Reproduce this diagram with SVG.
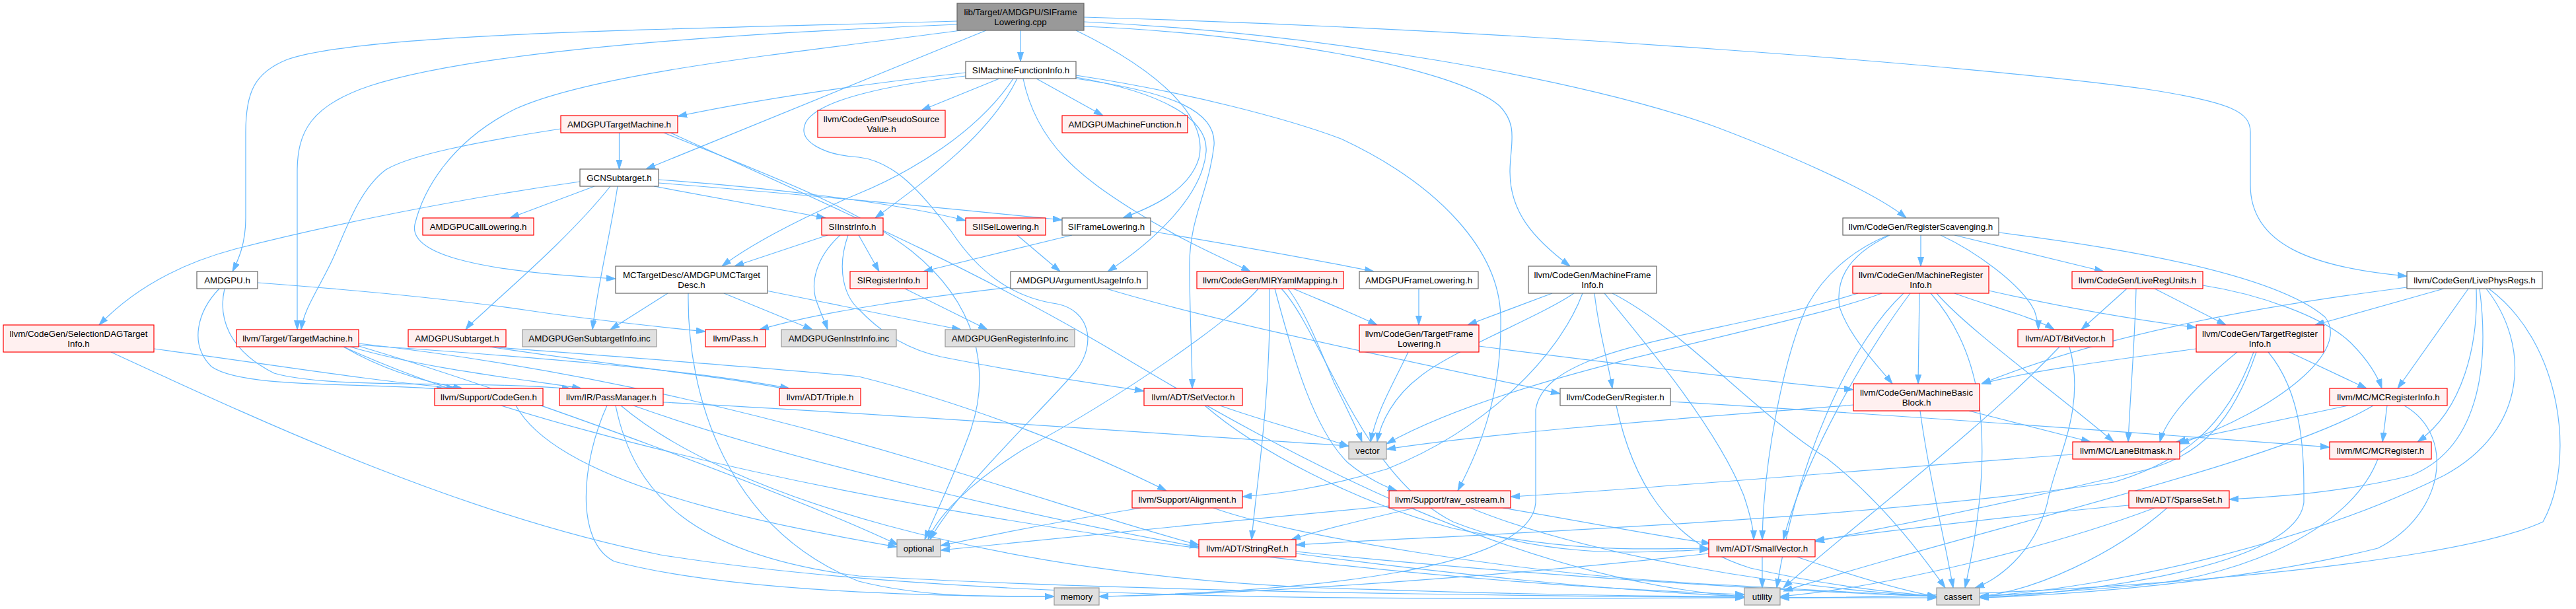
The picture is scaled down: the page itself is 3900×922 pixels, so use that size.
<svg xmlns="http://www.w3.org/2000/svg" width="3900" height="922" viewBox="0 0 3900 922">
<defs>
<marker id="ah" markerUnits="userSpaceOnUse" markerWidth="14" markerHeight="10" viewBox="0 0 14 10" refX="14" refY="5" orient="auto"><path d="M0,0.5 L14,5 L0,9.5 z" fill="#63b8ff" stroke="#63b8ff" stroke-width="1"/></marker>
<style>
.e path{fill:none;stroke:#63b8ff;stroke-width:1.2;marker-end:url(#ah)}
.w rect{fill:#ffffff;stroke:#666666;stroke-width:1.2}
.r rect{fill:#fff0f0;stroke:#ff0000;stroke-width:1.2}
.g rect{fill:#e0e0e0;stroke:#999999;stroke-width:1.2}
.root rect{fill:#999999;stroke:#666666;stroke-width:1.2}
text{font-family:"Liberation Sans",Arial,Helvetica,sans-serif;font-size:13.33px;fill:#000000;text-anchor:middle}
</style>
</defs>
<rect width="3900" height="922" fill="#ffffff"/>
<g id="connectors" class="e">
<path d="M1545,46 L1545,93"/>
<path d="M1449,32 C1000,45 550,50 435,90 C385,110 372,140 372,200 L372,330 C372,370 360,395 352,411"/>
<path d="M1449,37 C1000,55 700,85 560,130 C470,160 450,200 450,260 L450,499"/>
<path d="M1493,46 L978,256"/>
<path d="M1455,46 C1200,80 900,110 780,165 C680,215 640,290 628,340 C620,380 700,410 932,422"/>
<path d="M1629,46 C1760,110 1830,180 1815,240 C1800,290 1740,315 1700,330"/>
<path d="M1641,40 C1900,50 2200,100 2270,160 C2300,190 2286,220 2286,260 C2286,320 2320,360 2377,403"/>
<path d="M1641,33 C2000,50 2400,120 2600,193 C2750,250 2850,300 2886,330"/>
<path d="M1641,26 C2300,45 3000,100 3250,135 C3380,155 3407,170 3407,200 L3407,280 C3407,370 3500,405 3644,418"/>
<path d="M1462,110 C1300,128 1150,150 1026,176"/>
<path d="M1513,119 L1395,167"/>
<path d="M1569,119 L1670,175"/>
<path d="M1540,119 C1500,200 1420,260 1325,330"/>
<path d="M1534,119 C1480,200 1380,260 1300,293 C1200,335 1130,375 1093,403"/>
<path d="M1629,117 C1760,140 1830,180 1826,230 C1820,300 1740,370 1677,411"/>
<path d="M1549,119 C1570,220 1640,270 1714,317 C1790,365 1850,390 1893,411"/>
<path d="M1629,119 C1780,140 1842,170 1838,220 C1830,290 1801,330 1801,400 C1801,480 1805,540 1805,588"/>
<path d="M1629,114 C1800,140 1950,180 2030,210 C2180,280 2270,380 2272,480 C2274,600 2240,680 2207,743"/>
<path d="M1462,115 C1350,128 1240,150 1220,185 C1205,215 1250,235 1300,238 C1360,245 1400,300 1440,350 C1480,410 1530,450 1600,460 C1650,470 1660,520 1630,560 C1580,620 1450,740 1408,817"/>
<path d="M937.5,201 L937.5,256"/>
<path d="M849,195 C720,215 620,235 584,257 C540,290 520,360 500,400 C475,450 460,470 456,499"/>
<path d="M1005,201 C1150,260 1290,310 1380,380 C1480,460 1500,560 1470,650 C1445,720 1415,780 1400,817"/>
<path d="M1015,201 C1300,330 1500,420 1700,540 C1950,690 2300,880 2641,903"/>
<path d="M900,282 L772,330"/>
<path d="M990,282 L1250,330"/>
<path d="M997,272 C1150,283 1350,305 1462,334"/>
<path d="M997,277 C1200,293 1450,317 1608,333"/>
<path d="M878,275 C700,300 500,340 356,377 C270,400 200,440 150,492"/>
<path d="M924,282 C870,350 790,420 745,461 C725,480 712,490 705,499"/>
<path d="M935,282 C925,350 905,430 897,499"/>
<path d="M1253,356 L1112,403"/>
<path d="M1300,356 L1331,411"/>
<path d="M1272,356 C1235,390 1225,430 1238,461 C1245,480 1250,490 1253,499"/>
<path d="M1284,356 C1265,410 1280,450 1300,468 C1340,510 1380,530 1424,540 C1550,565 1650,580 1732,592"/>
<path d="M1540,356 L1605,411"/>
<path d="M1623,356 L1398,411"/>
<path d="M1742,350 C1850,368 2000,395 2080,411"/>
<path d="M390,428 C550,440 700,455 800,470 C900,485 1000,495 1068,502"/>
<path d="M332,437 C300,470 285,520 320,555 C370,590 560,578 675,590"/>
<path d="M340,437 C330,480 345,530 415,565 C500,590 720,575 865,589"/>
<path d="M1011,444 L924,499"/>
<path d="M1096,444 L1230,499"/>
<path d="M1160,440 C1260,460 1380,485 1455,499"/>
<path d="M1042,444 C1040,600 1100,800 1300,880 C1400,905 1500,903 1596,903"/>
<path d="M1370,437 L1495,499"/>
<path d="M1530,435 C1400,450 1250,470 1150,499"/>
<path d="M1675,437 C1850,490 2150,550 2362,596"/>
<path d="M1958,437 C2000,455 2050,475 2085,492"/>
<path d="M1950,437 C1975,470 1995,520 2020,580 C2040,620 2055,650 2062,669"/>
<path d="M1922,437 C1925,600 1900,750 1895,817"/>
<path d="M1905,437 C1870,480 1700,600 1550,680 C1470,730 1420,780 1405,817"/>
<path d="M1940,437 C2000,500 2060,720 2200,790 C2350,850 2500,835 2587,832"/>
<path d="M1930,437 C1960,550 1990,650 2040,700 C2070,725 2100,738 2115,743"/>
<path d="M2148,437 L2148,492"/>
<path d="M2350,444 L2222,492"/>
<path d="M2414,444 C2420,500 2435,550 2441,588"/>
<path d="M2383,444 C2330,480 2200,530 2150,570 C2110,600 2090,640 2085,669"/>
<path d="M2396,444 C2360,540 2250,650 2100,710 C2000,740 1930,748 1881,752"/>
<path d="M2429,444 C2500,530 2600,650 2640,750 C2650,780 2655,800 2655,817"/>
<path d="M2441,444 C2550,500 2650,620 2766,694 C2850,760 2910,840 2945,890"/>
<path d="M2908,356 L2908,403"/>
<path d="M2959,356 L3185,411"/>
<path d="M2938,356 C2990,380 3060,430 3080,470 C3085,485 3086,492 3086,499"/>
<path d="M2859,356 C2800,380 2760,420 2737,461 C2700,540 2670,700 2668,817"/>
<path d="M2861,356 C2790,390 2780,430 2785,465 C2800,510 2840,550 2865,581"/>
<path d="M3026,352 C3250,380 3450,420 3520,480 C3560,530 3450,620 3300,672"/>
<path d="M2906,444 L2904,581"/>
<path d="M2959,444 C3000,460 3080,480 3110,499"/>
<path d="M2932,444 C2980,500 3120,600 3200,669"/>
<path d="M3011,440 C3100,460 3200,480 3325,496"/>
<path d="M2882,444 C2800,520 2720,700 2690,890"/>
<path d="M2892,444 C2820,540 2730,700 2700,817"/>
<path d="M2923,444 C2990,520 3030,640 2975,890"/>
<path d="M2849,444 C2700,500 2300,560 2099,672"/>
<path d="M2813,444 C2600,510 2340,520 2325,620 L2325,760 C2320,860 2000,895 1664,903"/>
<path d="M3262,437 L3370,492"/>
<path d="M3220,437 L3151,499"/>
<path d="M3234,437 C3232,520 3225,600 3222,669"/>
<path d="M3335,432 C3420,445 3520,480 3560,520 C3585,545 3600,570 3606,588"/>
<path d="M3644,435 C3450,460 3200,500 3000,581"/>
<path d="M3700,437 L3505,492"/>
<path d="M3737,437 L3630,588"/>
<path d="M3749,437 C3752,520 3730,620 3660,669"/>
<path d="M3754,437 C3770,560 3750,680 3650,720 C3550,745 3450,752 3375,756"/>
<path d="M3764,437 C3830,520 3830,650 3700,720 C3500,820 3200,890 2997,903"/>
<path d="M3768,437 C3880,520 3900,700 3850,790 C3700,860 3100,905 2695,905"/>
<path d="M233,528 C400,550 550,575 690,588"/>
<path d="M168,533 C400,640 700,780 1000,840 C1500,920 2300,905 2641,905"/>
<path d="M520,525 C580,560 640,578 700,588"/>
<path d="M530,525 C650,560 800,575 880,588"/>
<path d="M540,522 C800,540 1050,560 1195,588"/>
<path d="M543,520 C900,560 1200,640 1400,700 C1600,760 1720,800 1815,825"/>
<path d="M540,523 C800,600 1200,750 1360,825"/>
<path d="M520,525 C900,700 1800,870 2641,900"/>
<path d="M741,525 C1000,545 1200,560 1300,570 C1500,620 1680,700 1766,743"/>
<path d="M741,525 C900,550 1100,570 1195,590"/>
<path d="M2132,533 C2110,580 2085,620 2075,669"/>
<path d="M2239,524 C2400,545 2650,575 2806,590"/>
<path d="M3118,525 C3000,650 2800,800 2700,890"/>
<path d="M3133,525 C3160,620 3110,700 3100,760 C3080,840 3020,880 2990,890"/>
<path d="M3325,528 C3200,545 3080,560 3000,581"/>
<path d="M3466,533 L3583,588"/>
<path d="M3387,533 C3330,580 3280,630 3270,669"/>
<path d="M3416,533 C3380,640 3330,690 3250,711 C3050,760 2850,800 2748,820"/>
<path d="M3412,533 C3370,650 3300,700 3200,730 C2800,790 2200,810 1962,825"/>
<path d="M3434,533 C3490,600 3488,700 3488,760 C3480,850 3200,895 2997,905"/>
<path d="M2806,613 C2600,630 2300,650 2099,680"/>
<path d="M2907,622 C2920,720 2945,820 2957,890"/>
<path d="M2981,622 L3165,669"/>
<path d="M3555,614 L3295,669"/>
<path d="M3614,614 L3607,669"/>
<path d="M3593,614 C3450,700 3000,800 2700,895"/>
<path d="M3640,614 C3720,660 3700,780 3600,830 C3400,880 3150,900 2997,905"/>
<path d="M3600,695 C3560,800 3400,870 3250,885 C3150,895 3050,900 2997,903"/>
<path d="M3138,688 C2900,705 2500,740 2287,752"/>
<path d="M2529,608 C2900,630 3300,660 3527,677"/>
<path d="M2447,614 C2470,720 2520,820 2650,860 C2780,890 2880,898 2932,903"/>
<path d="M1824,614 C1900,680 2050,760 2200,800 C2400,840 2500,830 2587,830"/>
<path d="M1847,614 C1920,640 2000,660 2042,676"/>
<path d="M1727,769 C1600,790 1500,810 1424,826"/>
<path d="M1837,769 C1950,810 2300,870 2600,885 C2750,893 2850,900 2932,903"/>
<path d="M2103,766 C1900,785 1600,815 1424,833"/>
<path d="M2142,769 C2050,790 1990,805 1955,817"/>
<path d="M2275,769 C2400,790 2500,810 2590,823"/>
<path d="M2226,769 C2400,840 2700,890 2932,903"/>
<path d="M3223,765 C3050,780 2850,805 2748,818"/>
<path d="M3262,769 C3100,830 2850,890 2695,903"/>
<path d="M3281,769 C3200,840 3080,895 2997,903"/>
<path d="M1962,835 C2300,870 2700,895 2932,903"/>
<path d="M1962,838 C2200,870 2450,895 2641,903"/>
<path d="M2668,843 L2668,890"/>
<path d="M2720,843 C2800,870 2880,895 2932,903"/>
<path d="M2587,838 C2300,870 1900,900 1664,903"/>
<path d="M1004,609 C1400,630 1800,660 2042,675"/>
<path d="M959,614 C1200,700 1600,790 1815,828"/>
<path d="M940,614 C1100,750 1500,870 2000,890 C2300,900 2500,903 2641,903"/>
<path d="M932,614 C960,750 1050,840 1300,872 C1800,900 2500,905 2932,905"/>
<path d="M919,614 C880,700 870,820 930,850 C1100,895 1400,903 1596,903"/>
<path d="M781,614 C850,740 1200,800 1358,828"/>
</g>
<g id="root" class="root"><rect x="1449" y="5" width="192" height="41"/><text x="1545" y="23">lib/Target/AMDGPU/SIFrame</text><text x="1545" y="38">Lowering.cpp</text></g>
<g id="simfi" class="w"><rect x="1462" y="93" width="167" height="26"/><text x="1545.5" y="111">SIMachineFunctionInfo.h</text></g>
<g id="atm" class="r"><rect x="849" y="175" width="177" height="26"/><text x="937.5" y="193">AMDGPUTargetMachine.h</text></g>
<g id="psv" class="r"><rect x="1238" y="167" width="193" height="41"/><text x="1334.5" y="185">llvm/CodeGen/PseudoSource</text><text x="1334.5" y="200">Value.h</text></g>
<g id="amf" class="r"><rect x="1608" y="175" width="190" height="26"/><text x="1703" y="193">AMDGPUMachineFunction.h</text></g>
<g id="gcn" class="w"><rect x="878" y="256" width="119" height="26"/><text x="937.5" y="274">GCNSubtarget.h</text></g>
<g id="acl" class="r"><rect x="640" y="330" width="168" height="26"/><text x="724" y="348">AMDGPUCallLowering.h</text></g>
<g id="sii" class="r"><rect x="1244" y="330" width="93" height="26"/><text x="1290.5" y="348">SIInstrInfo.h</text></g>
<g id="sisel" class="r"><rect x="1462" y="330" width="121" height="26"/><text x="1522.5" y="348">SIISelLowering.h</text></g>
<g id="sifl" class="w"><rect x="1608" y="330" width="134" height="26"/><text x="1675" y="348">SIFrameLowering.h</text></g>
<g id="amdgpu" class="w"><rect x="298" y="411" width="92" height="26"/><text x="344" y="429">AMDGPU.h</text></g>
<g id="mctd" class="w"><rect x="932" y="403" width="230" height="41"/><text x="1047" y="421">MCTargetDesc/AMDGPUMCTarget</text><text x="1047" y="436">Desc.h</text></g>
<g id="sri" class="r"><rect x="1287" y="411" width="117" height="26"/><text x="1345.5" y="429">SIRegisterInfo.h</text></g>
<g id="aaui" class="w"><rect x="1530" y="411" width="207" height="26"/><text x="1633.5" y="429">AMDGPUArgumentUsageInfo.h</text></g>
<g id="miry" class="r"><rect x="1812" y="411" width="222" height="26"/><text x="1923" y="429">llvm/CodeGen/MIRYamlMapping.h</text></g>
<g id="afl" class="w"><rect x="2058" y="411" width="180" height="26"/><text x="2148" y="429">AMDGPUFrameLowering.h</text></g>
<g id="mfi" class="w"><rect x="2314" y="403" width="194" height="41"/><text x="2411" y="421">llvm/CodeGen/MachineFrame</text><text x="2411" y="436">Info.h</text></g>
<g id="rs" class="w"><rect x="2790" y="330" width="236" height="26"/><text x="2908" y="348">llvm/CodeGen/RegisterScavenging.h</text></g>
<g id="mri" class="r"><rect x="2805" y="403" width="206" height="41"/><text x="2908" y="421">llvm/CodeGen/MachineRegister</text><text x="2908" y="436">Info.h</text></g>
<g id="lru" class="r"><rect x="3137" y="411" width="198" height="26"/><text x="3236" y="429">llvm/CodeGen/LiveRegUnits.h</text></g>
<g id="lpr" class="w"><rect x="3644" y="411" width="205" height="26"/><text x="3746.5" y="429">llvm/CodeGen/LivePhysRegs.h</text></g>
<g id="sdag" class="r"><rect x="5" y="492" width="228" height="41"/><text x="119" y="510">llvm/CodeGen/SelectionDAGTarget</text><text x="119" y="525">Info.h</text></g>
<g id="tm" class="r"><rect x="358" y="499" width="185" height="26"/><text x="450.5" y="517">llvm/Target/TargetMachine.h</text></g>
<g id="asub" class="r"><rect x="618" y="499" width="148" height="26"/><text x="692" y="517">AMDGPUSubtarget.h</text></g>
<g id="gsi" class="g"><rect x="791" y="499" width="203" height="26"/><text x="892.5" y="517">AMDGPUGenSubtargetInfo.inc</text></g>
<g id="pass" class="r"><rect x="1068" y="499" width="91" height="26"/><text x="1113.5" y="517">llvm/Pass.h</text></g>
<g id="gii" class="g"><rect x="1183" y="499" width="174" height="26"/><text x="1270" y="517">AMDGPUGenInstrInfo.inc</text></g>
<g id="gri" class="g"><rect x="1431" y="499" width="196" height="26"/><text x="1529" y="517">AMDGPUGenRegisterInfo.inc</text></g>
<g id="tfl" class="r"><rect x="2058" y="492" width="181" height="41"/><text x="2148.5" y="510">llvm/CodeGen/TargetFrame</text><text x="2148.5" y="525">Lowering.h</text></g>
<g id="bv" class="r"><rect x="3055" y="499" width="144" height="26"/><text x="3127" y="517">llvm/ADT/BitVector.h</text></g>
<g id="tri" class="r"><rect x="3325" y="492" width="193" height="41"/><text x="3421.5" y="510">llvm/CodeGen/TargetRegister</text><text x="3421.5" y="525">Info.h</text></g>
<g id="cg" class="r"><rect x="658" y="588" width="164" height="26"/><text x="740" y="606">llvm/Support/CodeGen.h</text></g>
<g id="pm" class="r"><rect x="847" y="588" width="157" height="26"/><text x="925.5" y="606">llvm/IR/PassManager.h</text></g>
<g id="triple" class="r"><rect x="1180" y="588" width="123" height="26"/><text x="1241.5" y="606">llvm/ADT/Triple.h</text></g>
<g id="sv" class="r"><rect x="1732" y="588" width="149" height="26"/><text x="1806.5" y="606">llvm/ADT/SetVector.h</text></g>
<g id="reg" class="w"><rect x="2362" y="588" width="167" height="26"/><text x="2445.5" y="606">llvm/CodeGen/Register.h</text></g>
<g id="mbb" class="r"><rect x="2806" y="581" width="191" height="41"/><text x="2901.5" y="599">llvm/CodeGen/MachineBasic</text><text x="2901.5" y="614">Block.h</text></g>
<g id="mcri" class="r"><rect x="3527" y="588" width="178" height="26"/><text x="3616" y="606">llvm/MC/MCRegisterInfo.h</text></g>
<g id="vec" class="g"><rect x="2042" y="669" width="57" height="26"/><text x="2070.5" y="687">vector</text></g>
<g id="lb" class="r"><rect x="3138" y="669" width="162" height="26"/><text x="3219" y="687">llvm/MC/LaneBitmask.h</text></g>
<g id="mcr" class="r"><rect x="3527" y="669" width="154" height="26"/><text x="3604" y="687">llvm/MC/MCRegister.h</text></g>
<g id="align" class="r"><rect x="1714" y="743" width="167" height="26"/><text x="1797.5" y="761">llvm/Support/Alignment.h</text></g>
<g id="ros" class="r"><rect x="2103" y="743" width="184" height="26"/><text x="2195" y="761">llvm/Support/raw_ostream.h</text></g>
<g id="ss" class="r"><rect x="3223" y="743" width="152" height="26"/><text x="3299" y="761">llvm/ADT/SparseSet.h</text></g>
<g id="opt" class="g"><rect x="1358" y="817" width="66" height="26"/><text x="1391" y="835">optional</text></g>
<g id="sr" class="r"><rect x="1815" y="817" width="147" height="26"/><text x="1888.5" y="835">llvm/ADT/StringRef.h</text></g>
<g id="smv" class="r"><rect x="2587" y="817" width="161" height="26"/><text x="2667.5" y="835">llvm/ADT/SmallVector.h</text></g>
<g id="mem" class="g"><rect x="1596" y="890" width="68" height="26"/><text x="1630" y="908">memory</text></g>
<g id="util" class="g"><rect x="2641" y="890" width="54" height="26"/><text x="2668" y="908">utility</text></g>
<g id="cas" class="g"><rect x="2932" y="890" width="65" height="26"/><text x="2964.5" y="908">cassert</text></g>
</svg>
